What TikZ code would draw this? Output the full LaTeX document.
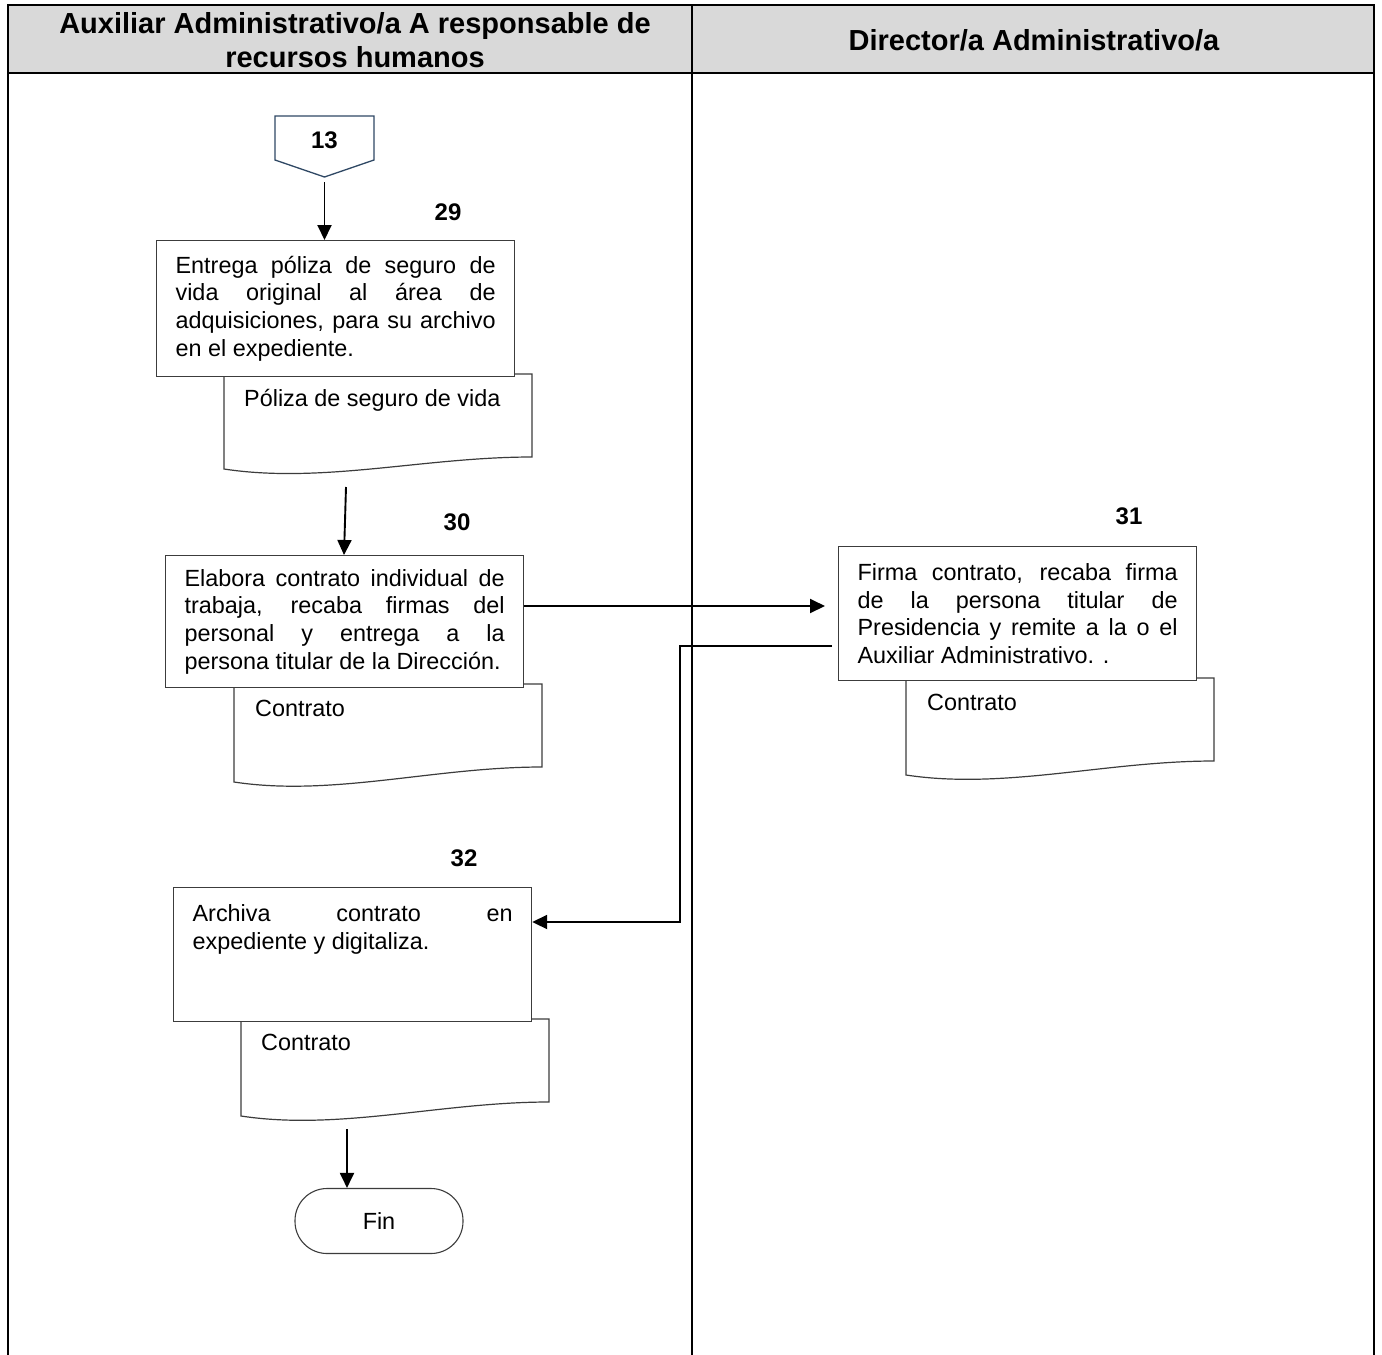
\documentclass[tikz,border=0pt]{standalone}
\usepackage{fontspec}
\setmainfont{Liberation Sans}
\usetikzlibrary{arrows.meta,calc}
\definecolor{hdrgray}{RGB}{217,217,217}
\definecolor{boxline}{RGB}{60,60,60}
\definecolor{navyline}{RGB}{47,72,100}
\newcommand\myBody{\fontsize{23.4}{27.6}\selectfont\hyphenpenalty=10000\exhyphenpenalty=10000\tolerance=10000}
\newcommand\docshp[6]{% x1,x2,top,leftbottom,rightbottom,name
  \draw[docline] (#1,#3) -- (#2,#3) -- (#2,#5)
    .. controls ({#1+0.65*(#2-#1)},{#5}) and ({#1+0.32*(#2-#1)},{#4+15}) .. (#1,#4) -- cycle;
  \coordinate (#6) at ({#1+0.5*(#2-#1)},{#4+5});
}
\begin{document}
\begin{tikzpicture}[x=1pt,y=-1pt,
  lane/.style={line width=2.6pt, black},
  hdr/.style={font=\fontsize{29}{34}\selectfont\bfseries, align=center, inner sep=0pt},
  procbox/.style={draw=boxline, line width=1.2pt, fill=white, rectangle, text width=320pt,
     inner xsep=19pt, inner ysep=0pt, align=justify, font=\myBody, anchor=north west},
  docline/.style={draw=boxline, line width=1.2pt, fill=white},
  doctxt/.style={font=\myBody, anchor=base west, inner sep=0pt},
  numlbl/.style={font=\fontsize{24}{28}\selectfont\bfseries, inner sep=0pt},
  arr/.style={line width=1.9pt, -{Triangle[length=15pt,width=14pt]}},
  plain/.style={line width=1.9pt}
]
\useasboundingbox (0,0) rectangle (1382,1355);
\fill[white] (0,0) rectangle (1382,1355);

% header and lanes
\fill[hdrgray] (8,5) rectangle (1374,73);
\draw[lane] (8,1355) -- (8,5) -- (1374,5) -- (1374,1355);
\draw[lane] (8,73) -- (1374,73);
\draw[lane] (692,5) -- (692,1355);
\node[hdr] (h1) at (355,40) {Auxiliar Administrativo/a A responsable de\\recursos humanos};
\node[hdr] (h2) at (1034,40) {Director/a Administrativo/a};

% off-page connector 13
\draw[navyline, line width=1.3pt, fill=white] (275,116) -- (374,116) -- (374,160) -- (324.5,177) -- (275,160) -- cycle;
\node[numlbl] (c13) at (324.5,140) {13};
\coordinate (c13tip) at (324.5,182);

% documents (drawn first, partly hidden by boxes)
\docshp{224}{532}{374}{469}{457}{d29}
\node[doctxt] (d29t) at (244,406) {Póliza de seguro de vida};
\docshp{234}{542}{684}{782}{767}{d30}
\node[doctxt] (d30t) at (255,716) {Contrato};
\docshp{906}{1214}{678}{775}{761}{d31}
\node[doctxt] (d31t) at (927,710) {Contrato};
\docshp{241}{549}{1019}{1116}{1102}{d32}
\node[doctxt] (d32t) at (261,1050) {Contrato};

% step numbers
\node[numlbl] (n29) at (448,212) {29};
\node[numlbl] (n30) at (457,522) {30};
\node[numlbl] (n31) at (1129,516) {31};
\node[numlbl] (n32) at (464,858) {32};

% process boxes
\node[procbox, minimum height=136pt] (b29) at (156,240)
  {Entrega póliza de seguro de\linebreak vida original al área de\linebreak adquisiciones, para su archivo\linebreak en el expediente.};
\node[procbox, minimum height=132pt] (b30) at (165,555)
  {Elabora contrato individual de\linebreak trabaja, recaba firmas del\linebreak personal y entrega a la\linebreak persona titular de la Dirección.};
\node[procbox, minimum height=134pt] (b31) at (838,546)
  {Firma contrato, recaba firma\linebreak de la persona titular de\linebreak Presidencia y remite a la o el\linebreak Auxiliar Administrativo. .};
\node[procbox, minimum height=134pt] (b32) at (173,887)
  {Archiva contrato en\linebreak expediente y digitaliza.\\\mbox{}\\\mbox{}};

% terminator
\node[draw=boxline, line width=1.1pt, rounded corners=32pt, minimum width=168pt, minimum height=65pt,
      font=\myBody] (fin) at (379,1221) {Fin};

% connectors
\draw[arr] (c13tip) -- (c13tip |- b29.north);
\coordinate (s29) at (346,487);
\draw[arr] (s29) -- (344,555) coordinate (e30);
\coordinate (t31) at (825,606);
\draw[arr] (b30.east |- t31) -- (t31);
\coordinate (r31) at (832,646);
\coordinate (j32) at (680,922);
\draw[arr] (r31) -| (j32) -- (j32 -| b32.east);
\coordinate (s32) at (347,1129);
\draw[arr] (s32) -- (s32 |- fin.north);
\end{tikzpicture}
\end{document}
